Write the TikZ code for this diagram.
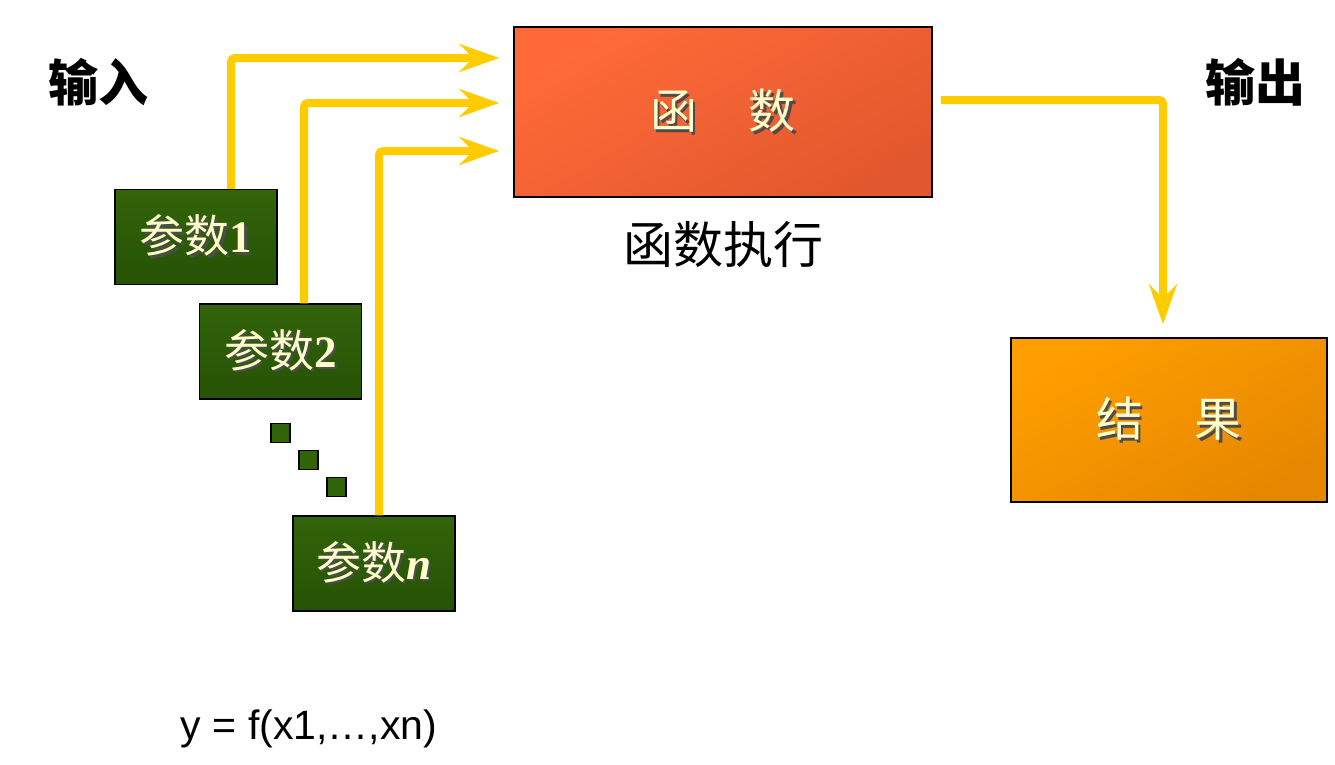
\documentclass[tikz,border=0pt]{standalone}
\usepackage{fontspec}
\newfontfamily\cjk{Noto Sans CJK SC}
\newfontfamily\arialf{Liberation Sans}
\newfontfamily\timesf{Liberation Serif}
\usepackage{tikz}
\usetikzlibrary{arrows.meta,positioning,calc}
\definecolor{huang}{RGB}{255,204,0}
\definecolor{zihuang}{RGB}{255,255,204}
\definecolor{lvA}{RGB}{50,100,10}
\definecolor{lvB}{RGB}{38,82,4}
\definecolor{hongA}{RGB}{255,106,56}
\definecolor{hongB}{RGB}{226,88,46}
\definecolor{chengA}{RGB}{255,158,0}
\definecolor{chengB}{RGB}{230,135,0}
\newcommand{\tuqi}[1]{\makebox[0pt][l]{\hspace{2.5pt}\raisebox{-2.5pt}{\color{black!70}#1}}{\color{zihuang}#1}}
\newcommand{\hao}[1]{{\timesf\bfseries #1}}
\tikzset{
  canshu/.style={draw=black,line width=1.5pt,top color=lvA,bottom color=lvB,
                 minimum width=162pt,minimum height=95pt,inner sep=0pt,
                 font=\cjk\fontsize{45}{48}\selectfont},
  dian/.style={draw=black,line width=1.2pt,fill=lvA,minimum size=19pt,inner sep=0pt},
  hanshu/.style={draw=black,line width=1.5pt,top color=hongA,bottom color=hongB,shading angle=30,
                 minimum width=418pt,minimum height=170pt,inner sep=0pt,
                 font=\cjk\fontsize{47}{50}\selectfont},
  jieguo/.style={draw=black,line width=1.5pt,top color=chengA,bottom color=chengB,shading angle=30,
                 minimum width=316pt,minimum height=164pt,inner sep=0pt,
                 font=\cjk\fontsize{47}{50}\selectfont},
  biaoti/.style={font=\cjk\bfseries\fontsize{50}{54}\selectfont,inner sep=0pt},
  jiantou/.style={huang,line width=8pt,rounded corners=4pt,
                  -{Stealth[length=40pt,width=28pt,inset=14pt]}},
}
\begin{document}
\begin{tikzpicture}[x=1pt,y=-1pt]
  \useasboundingbox (0,0) rectangle (1335,764);
  % eingaben
  \node[biaoti] (shuru) at (98,82) {输入};
  \node[canshu] (c1) at (196,237) {\tuqi{参数\hao{1}}};
  \node[canshu] (c2) at (280.5,351.5) {\tuqi{参数\hao{2}}};
  \node[dian] (d1) at (280.5,433) {};
  \node[dian] (d2) at (308.5,460) {};
  \node[dian] (d3) at (336.5,487) {};
  \node[canshu] (cn) at (374,563.5) {\tuqi{参数\hao{\itshape n}}};
  % funktion und ergebnis
  \node[hanshu] (hs) at (723,112) {\tuqi{函\hspace{1.1em}数}};
  \node[font=\cjk\fontsize{50}{54}\selectfont,below=20pt of hs] (zhixing) {函数执行};
  \node[biaoti] (shuchu) at (1255,82) {输出};
  \node[jieguo] (jg) at (1169,420) {\tuqi{结\hspace{1.1em}果}};
  \node[font=\arialf\fontsize{41}{45}\selectfont] (gongshi) at (309,729) {y = f(x1,\dots,xn)};
  \draw[jiantou,shorten >=14pt] ([xshift=35pt]c1.north) |- ([yshift=54pt]hs.west);
  \draw[jiantou,shorten >=14pt] ([xshift=23.5pt]c2.north) |- ([yshift=9pt]hs.west);
  \draw[jiantou,shorten >=14pt] ([xshift=5pt]cn.north) |- ([yshift=-39pt]hs.west);
  \draw[jiantou,shorten <=8pt,shorten >=13pt] ([yshift=12pt]hs.east) -| ([xshift=-6pt]jg.north);
\end{tikzpicture}
\end{document}
